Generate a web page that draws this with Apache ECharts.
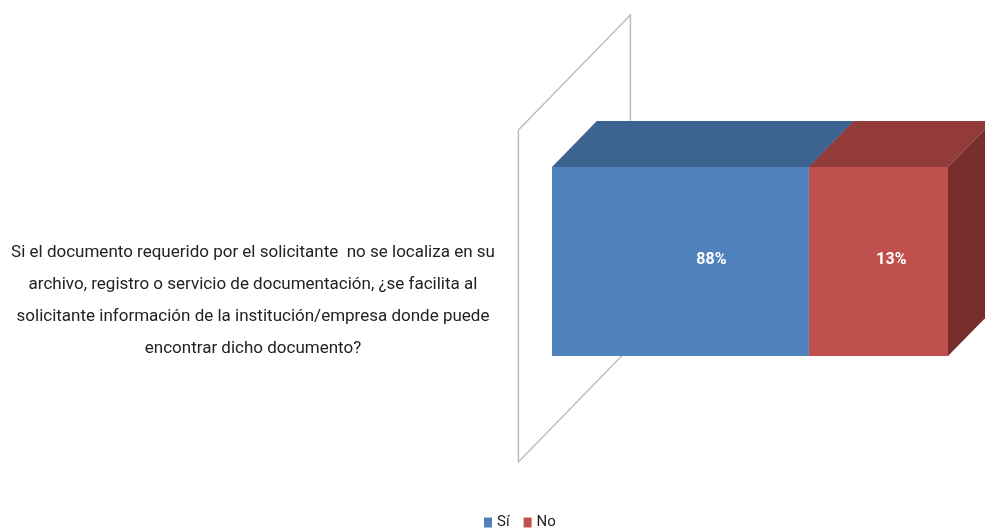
<!DOCTYPE html>
<html>
<head>
<meta charset="utf-8">
<title>chart</title>
<script src="https://cdn.jsdelivr.net/npm/echarts@6.0.0/dist/echarts.min.js"></script>
<style>
html, body { margin: 0; padding: 0; background: #fff; }
#myDiv { width: 985px; height: 528px; }
</style>
</head>
<body>
<div id="myDiv"></div>
<script>
// question text, one entry per printed line
var questionLines = [
  'Si el documento requerido por el solicitante  no se localiza en su',
  'archivo, registro o servicio de documentación, ¿se facilita al',
  'solicitante información de la institución/empresa donde puede',
  'encontrar dicho documento?'
];
var categories = [questionLines.join('\n')];
var seriesNames = ['Sí', 'No'];
var siValues = [88];
var noValues = [13];

var FONT = "Roboto, 'Open Sans', sans-serif";
var axisMin = 64, axisMax = 101;
var DEPTH = [112, -115];   // full floor depth (px)
var FRONT_FRAC = 0.30;     // bar front plane, measured from the wall front
var BAR_DEPTH = 0.40;
var BAR_RATIO = 0.57;
var colors = [
  { front: '#4F81BD', top: '#3D6390', side: '#3A5F8C', labelShift: 31 },
  { front: '#C0504D', top: '#923B39', side: '#772F2D', labelShift: 13 }
];

function barRenderer(idx) {
  var c = colors[idx];
  return function (params, api) {
    var val = api.value(0), cat = api.value(1), base = api.value(2);
    var p0 = api.coord([Math.max(base, axisMin), cat]);
    var p1 = api.coord([base + val, cat]);
    var h = api.size([0, 1])[1] * BAR_RATIO;
    var x0 = p0[0], x1 = p1[0], y0 = p0[1] - h / 2, y1 = p0[1] + h / 2;
    var dx = DEPTH[0] * BAR_DEPTH, dy = DEPTH[1] * BAR_DEPTH;
    return {
      type: 'group',
      children: [
        { type: 'polygon', shape: { points: [[x0, y0], [x1, y0], [x1 + dx, y0 + dy], [x0 + dx, y0 + dy]] },
          style: { fill: c.top } },
        { type: 'polygon', shape: { points: [[x1, y0], [x1 + dx, y0 + dy], [x1 + dx, y1 + dy], [x1, y1]] },
          style: { fill: c.side } },
        { type: 'rect', shape: { x: x0, y: y0, width: x1 - x0, height: y1 - y0 },
          style: { fill: c.front } },
        { type: 'text', x: (x0 + x1) / 2 + c.labelShift, y: p0[1] - 2,
          style: { text: val + '%', fill: '#fff', fontSize: 16, fontWeight: 'bold',
                   fontFamily: FONT, align: 'center', verticalAlign: 'middle' } }
      ]
    };
  };
}

// back wall plus the category text (sits lower than the bar, like the original)
function wallRenderer(params, api) {
  var p = api.coord([api.value(0), api.value(1)]);
  var band = api.size([0, 1])[1];
  var yT = p[1] - band / 2, yB = p[1] + band / 2;
  var fx = -DEPTH[0] * FRONT_FRAC, fy = -DEPTH[1] * FRONT_FRAC;
  var bx = DEPTH[0] * (1 - FRONT_FRAC), by = DEPTH[1] * (1 - FRONT_FRAC);
  return {
    type: 'group',
    children: [
      { type: 'polygon',
        shape: { points: [[p[0] + fx, yT + fy], [p[0] + bx, yT + by], [p[0] + bx, yB + by], [p[0] + fx, yB + fy]] },
        style: { fill: 'none', stroke: '#BDBDBD', lineWidth: 1.5 } },
      { type: 'text', x: p[0] - 299, y: p[1] + 39,
        style: { text: categories[api.value(1)], fill: '#222', fontSize: 17, lineHeight: 32,
                 fontFamily: FONT, align: 'center', verticalAlign: 'middle' } }
    ]
  };
}

var myChart = echarts.init(document.getElementById('myDiv'));
var option = {
  animation: false,
  grid: { left: 552, right: 37, top: 95.5, bottom: 100.5, outerBoundsMode: 'none', containLabel: false },
  xAxis: { type: 'value', min: axisMin, max: axisMax, show: false },
  yAxis: {
    type: 'category',
    data: categories,
    axisLine: { show: false },
    axisTick: { show: false },
    axisLabel: { show: false }
  },
  legend: {
    data: seriesNames,
    top: 510,
    left: 479,
    icon: 'rect',
    itemWidth: 8,
    itemHeight: 10,
    itemGap: 14,
    textStyle: { fontSize: 15, color: '#222', fontFamily: FONT }
  },
  series: [
    { type: 'custom', name: 'wall', clip: false, silent: true, z: 1,
      renderItem: wallRenderer, encode: { x: 0, y: 1 },
      data: [[axisMin, 0]] },
    { type: 'custom', name: seriesNames[0], clip: false, z: 2,
      itemStyle: { color: colors[0].front },
      renderItem: barRenderer(0), encode: { x: 0, y: 1 },
      data: siValues.map(function (v, i) { return [v, i, 0]; }) },
    { type: 'custom', name: seriesNames[1], clip: false, z: 3,
      itemStyle: { color: colors[1].front },
      renderItem: barRenderer(1), encode: { x: 0, y: 1 },
      data: noValues.map(function (v, i) { return [v, i, siValues[i]]; }) }
  ]
};
option && myChart.setOption(option);
</script>
</body>
</html>
